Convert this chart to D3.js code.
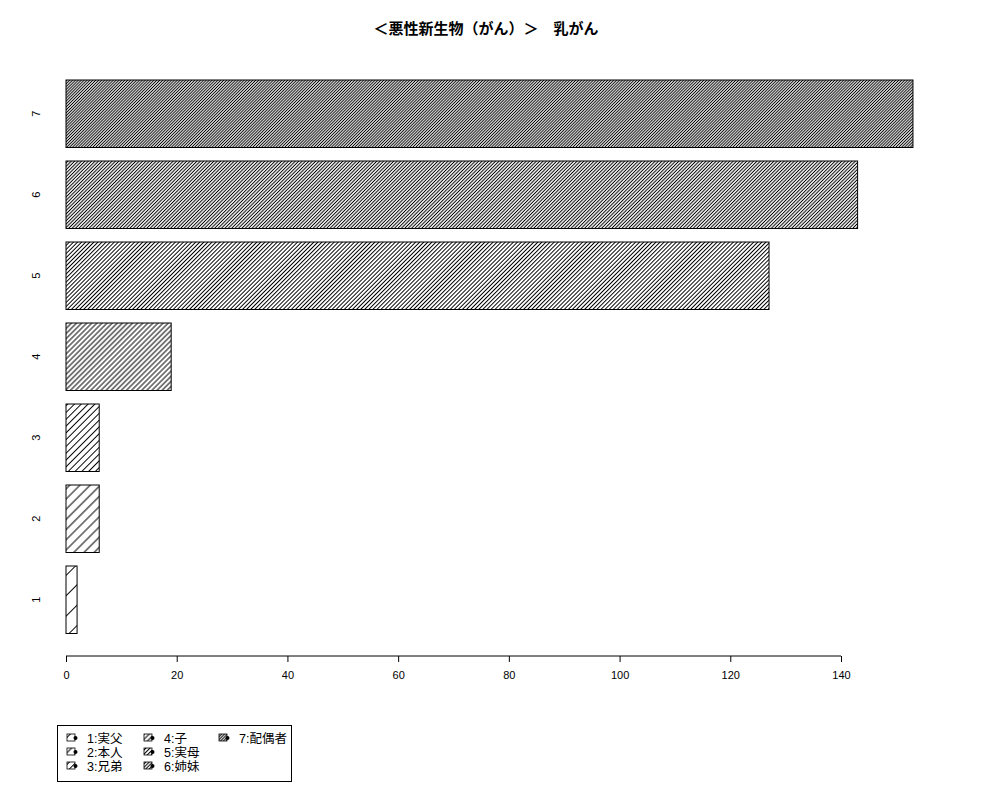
<!DOCTYPE html>
<html>
<head>
<meta charset="utf-8">
<script src="https://cdn.jsdelivr.net/npm/d3@7"></script>
<style>
  body { margin: 0; background: #fff; }
  text { font-family: "Liberation Sans", Arial, "Noto Sans CJK JP", sans-serif; }
</style>
</head>
<body>
<div id="chart"></div>
<script>
// data
var categories = ["1", "2", "3", "4", "5", "6", "7"];
var counts = [2, 6, 6, 19, 127, 143, 153];
var densities = [5, 10, 15, 20, 25, 30, 35]; // hatch lines per inch, like R's density=
var legendLabels = ["1:実父", "2:本人", "3:兄弟", "4:子", "5:実母", "6:姉妹", "7:配偶者"];
var xTicks = [0, 20, 40, 60, 80, 100, 120, 140];
var title = "＜悪性新生物（がん）＞　乳がん";

let width = 1000;
let height = 800;

var svg = d3.select("#chart")
    .append("svg")
    .attr("width", width)
    .attr("height", height);

var defs = svg.append("defs");

//one hatch pattern per bar, spacing in px = 72 / density
densities.forEach((dens, i) => {
    let p = 72 / dens;
    let pat = defs.append("pattern")
        .attr("id", "hatch" + i)
        .attr("patternUnits", "userSpaceOnUse")
        .attr("width", 20)
        .attr("height", p)
        .attr("patternTransform", "rotate(-45)");
    pat.append("line")
        .attr("x1", 0).attr("x2", 20)
        .attr("y1", p / 2).attr("y2", p / 2)
        .attr("stroke", "#000")
        .attr("stroke-width", 1);
});

//scales
var x = d3.scaleLinear()
    .domain([0, 140])
    .range([66, 841]);

var y = d3.scaleBand()
    .domain(categories.slice().reverse())
    .range([73.25, 640.25])
    .paddingInner(1 / 6)
    .paddingOuter(1 / 12);

var data = categories.map((c, i) => ({cat: c, value: counts[i], idx: i}));

//bars: hatch then outline
var bars = svg.selectAll(".bar")
    .data(data)
    .enter().append("g")
    .attr("class", "bar");

bars.append("rect")
    .attr("x", x(0))
    .attr("y", d => y(d.cat))
    .attr("width", d => x(d.value) - x(0))
    .attr("height", y.bandwidth())
    .attr("fill", d => "url(#hatch" + d.idx + ")")
    .attr("stroke", "#000")
    .attr("stroke-width", 1);

//x axis
var axisY = 656;
var xAxis = d3.axisBottom(x)
    .tickValues(xTicks)
    .tickSize(6)
    .tickPadding(9)
    .tickSizeOuter(0);

var gx = svg.append("g")
    .attr("transform", "translate(0," + axisY + ")")
    .call(xAxis);
gx.select(".domain").remove();
gx.selectAll("text")
    .style("font-family", "'Liberation Sans', Arial, sans-serif")
    .style("font-size", "11px")
    .attr("fill", "#000");
gx.append("line")
    .attr("x1", x(xTicks[0]))
    .attr("x2", x(xTicks[xTicks.length - 1]))
    .attr("stroke", "#000");

//y labels, rotated like R las=0
svg.selectAll(".ylab")
    .data(categories)
    .enter().append("text")
    .attr("class", "ylab")
    .attr("transform", d => "translate(40," + (y(d) + y.bandwidth() / 2) + ") rotate(-90)")
    .style("text-anchor", "middle")
    .style("font-size", "11px")
    .text(d => d);

//title
svg.append("text")
    .attr("x", 486)
    .attr("y", 34)
    .style("text-anchor", "middle")
    .style("font-size", "15px")
    .style("font-weight", "bold")
    .text(title);

//legend
var legend = svg.append("g");
legend.append("rect")
    .attr("x", 57.5)
    .attr("y", 725.5)
    .attr("width", 234)
    .attr("height", 56)
    .attr("fill", "none")
    .attr("stroke", "#000");

var colX = [67, 144, 219];
var rowY = [739, 753, 767];

legendLabels.forEach((lab, i) => {
    let col = Math.floor(i / 3);
    let row = i % 3;
    let gx0 = colX[col];
    let gy0 = rowY[row];
    legend.append("rect")
        .attr("x", gx0)
        .attr("y", gy0 - 5)
        .attr("width", 8)
        .attr("height", 7)
        .attr("fill", "url(#hatch" + i + ")")
        .attr("stroke", "#000")
        .attr("stroke-width", 0.8);
    legend.append("circle")
        .attr("cx", gx0 + 8.5)
        .attr("cy", gy0 - 1)
        .attr("r", 2)
        .attr("fill", "#000");
    legend.append("text")
        .attr("x", gx0 + 20)
        .attr("y", gy0 + 4)
        .style("font-size", "12.5px")
        .text(lab);
});
</script>
</body>
</html>
